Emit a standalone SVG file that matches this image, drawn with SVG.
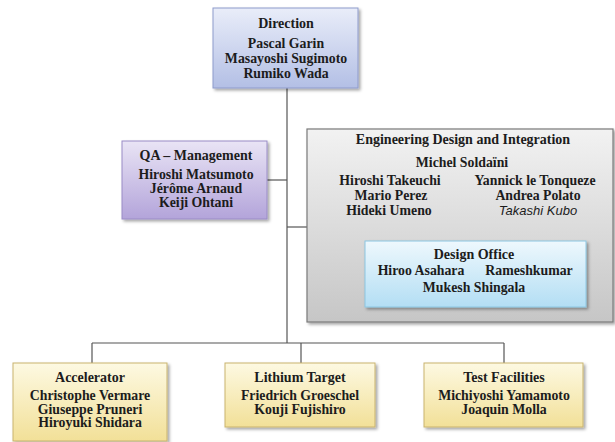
<svg xmlns="http://www.w3.org/2000/svg" width="615" height="442" viewBox="0 0 615 442">
<defs>
<linearGradient id="gBlue" x1="0" y1="0" x2="0" y2="1"><stop offset="0" stop-color="#e9edf9"/><stop offset="1" stop-color="#b3bfe5"/></linearGradient>
<linearGradient id="gPurple" x1="0" y1="0" x2="0" y2="1"><stop offset="0" stop-color="#e9e4f5"/><stop offset="1" stop-color="#b3a4da"/></linearGradient>
<linearGradient id="gGray" x1="0" y1="0" x2="0" y2="1"><stop offset="0" stop-color="#f2f2f2"/><stop offset="1" stop-color="#c6c6c6"/></linearGradient>
<linearGradient id="gCyan" x1="0" y1="0" x2="0" y2="1"><stop offset="0" stop-color="#eef8fd"/><stop offset="1" stop-color="#b3def4"/></linearGradient>
<linearGradient id="gYellow" x1="0" y1="0" x2="0" y2="1"><stop offset="0" stop-color="#fdf9e2"/><stop offset="1" stop-color="#f2e098"/></linearGradient>
<filter id="sh" x="-10%" y="-10%" width="125%" height="130%"><feDropShadow dx="2" dy="2" stdDeviation="1.8" flood-color="#000" flood-opacity="0.35"/></filter>
</defs>
<style>
text{font-family:"Liberation Serif","Times New Roman",serif;font-weight:bold;font-size:13.8px;fill:#1c1c1c;text-anchor:middle}
.t{font-size:14px}
.i{font-family:"Liberation Sans",Arial,sans-serif;font-style:italic;font-weight:normal;font-size:13px}
.conn line{stroke:#555;stroke-width:1.2}
.box{filter:url(#sh)}
</style>
<g class="conn" id="connectors">
<line x1="287" y1="88" x2="287" y2="343"/>
<line x1="267" y1="180" x2="287" y2="180"/>
<line x1="287" y1="227" x2="307" y2="227"/>
<line x1="92" y1="343" x2="504" y2="343"/>
<line x1="92" y1="343" x2="92" y2="363"/>
<line x1="301" y1="343" x2="301" y2="363"/>
<line x1="504" y1="343" x2="504" y2="363"/>
</g>
<g id="direction">
<rect class="box" x="213" y="8" width="145" height="80" fill="url(#gBlue)" stroke="#8e9bcb" stroke-width="1"/>
<text x="286" y="28" class="t">Direction</text>
<text x="286" y="48">Pascal Garin</text>
<text x="286" y="63">Masayoshi Sugimoto</text>
<text x="286" y="78">Rumiko Wada</text>
</g>
<g id="qa">
<rect class="box" x="122" y="141" width="145" height="78" fill="url(#gPurple)" stroke="#9a8cc6" stroke-width="1"/>
<text x="196" y="160" class="t">QA – Management</text>
<text x="196" y="178.5">Hiroshi Matsumoto</text>
<text x="196" y="192.5">Jérôme Arnaud</text>
<text x="196" y="206.5">Keiji Ohtani</text>
</g>
<g id="engineering">
<rect class="box" x="307" y="129" width="306" height="193" fill="url(#gGray)" stroke="#7a7a7a" stroke-width="1.2"/>
<text x="463" y="144" class="t">Engineering Design and Integration</text>
<text x="462" y="167">Michel Soldaïni</text>
<text x="390" y="185">Hiroshi Takeuchi</text>
<text x="535" y="185">Yannick le Tonqueze</text>
<text x="391" y="200">Mario Perez</text>
<text x="538" y="200">Andrea Polato</text>
<text x="389" y="214.5">Hideki Umeno</text>
<text x="538" y="214.5" class="i">Takashi Kubo</text>
</g>
<g id="design-office">
<rect class="box" x="365" y="241" width="221" height="66" fill="url(#gCyan)" stroke="#8cc6e2" stroke-width="1"/>
<text x="474" y="259" class="t">Design Office</text>
<text x="421" y="275">Hiroo Asahara</text>
<text x="529" y="275">Rameshkumar</text>
<text x="474" y="292">Mukesh Shingala</text>
</g>
<g id="accelerator">
<rect class="box" x="13" y="363" width="154" height="78" fill="url(#gYellow)" stroke="#c9b36e" stroke-width="1"/>
<text x="90" y="382" class="t">Accelerator</text>
<text x="90" y="400">Christophe Vermare</text>
<text x="90" y="413.5">Giuseppe Pruneri</text>
<text x="90" y="427">Hiroyuki Shidara</text>
</g>
<g id="lithium">
<rect class="box" x="225" y="363" width="150" height="64" fill="url(#gYellow)" stroke="#c9b36e" stroke-width="1"/>
<text x="300" y="382" class="t">Lithium Target</text>
<text x="300" y="400">Friedrich Groeschel</text>
<text x="300" y="413.5">Kouji Fujishiro</text>
</g>
<g id="test-facilities">
<rect class="box" x="424" y="363" width="159" height="64" fill="url(#gYellow)" stroke="#c9b36e" stroke-width="1"/>
<text x="504" y="382" class="t">Test Facilities</text>
<text x="504" y="400">Michiyoshi Yamamoto</text>
<text x="504" y="413.5">Joaquin Molla</text>
</g>
</svg>
